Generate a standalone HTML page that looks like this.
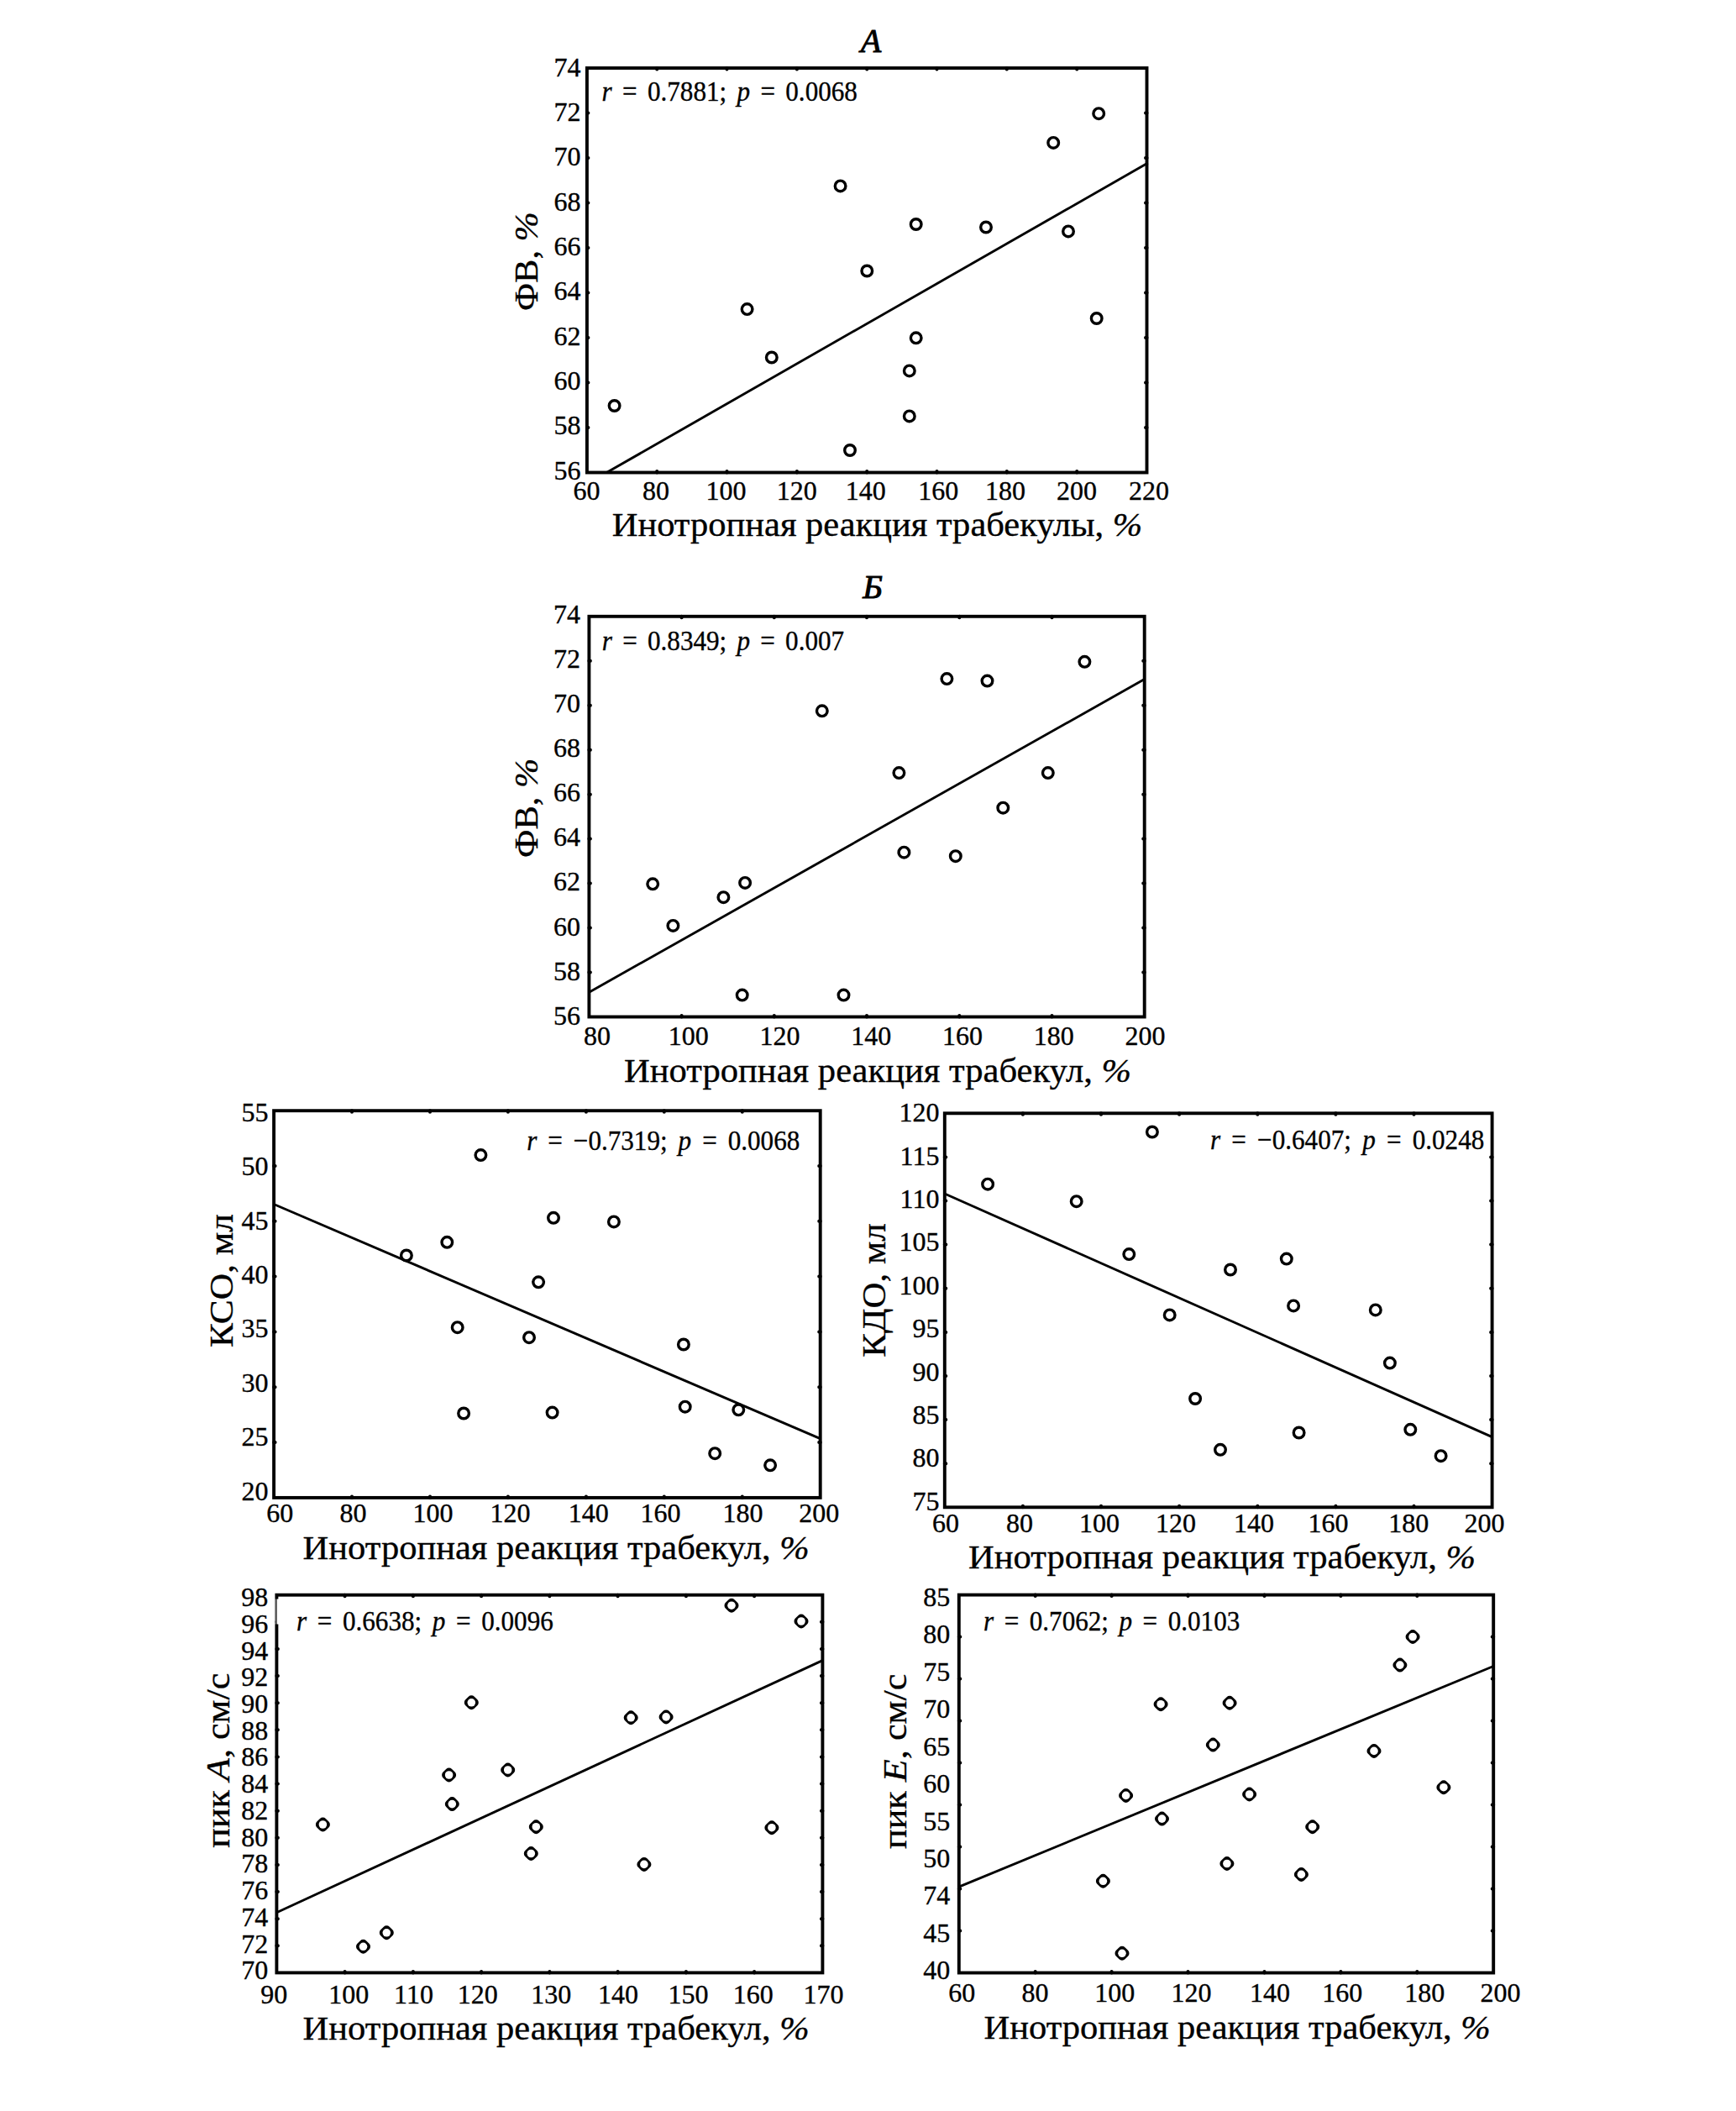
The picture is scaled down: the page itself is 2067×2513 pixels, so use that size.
<!DOCTYPE html>
<html lang="ru"><head><meta charset="utf-8"><title>Figure</title>
<style>
html,body{margin:0;padding:0;background:#fff}
svg{display:block}
text{font-family:"Liberation Serif","DejaVu Serif",serif;fill:#000;stroke:#000;stroke-width:0.35px}
</style></head><body>
<svg width="2067" height="2513" viewBox="0 0 2067 2513">
<rect width="2067" height="2513" fill="#fff"/>
<g>
<rect x="698.9" y="81.0" width="666.6" height="481.5" fill="none" stroke="#000" stroke-width="3.9"/>
<text x="698.4" y="594.6" font-size="32" text-anchor="middle">60</text>
<text x="781.1" y="594.6" font-size="32" text-anchor="middle">80</text>
<text x="864.6" y="594.6" font-size="32" text-anchor="middle">100</text>
<text x="948.8" y="594.6" font-size="32" text-anchor="middle">120</text>
<text x="1030.8" y="594.6" font-size="32" text-anchor="middle">140</text>
<text x="1117.2" y="594.6" font-size="32" text-anchor="middle">160</text>
<text x="1197.1" y="594.6" font-size="32" text-anchor="middle">180</text>
<text x="1281.9" y="594.6" font-size="32" text-anchor="middle">200</text>
<text x="1368.0" y="594.6" font-size="32" text-anchor="middle">220</text>
<text x="691.4" y="570.6" font-size="32" text-anchor="end">56</text>
<text x="691.4" y="517.3" font-size="32" text-anchor="end">58</text>
<text x="691.4" y="464.0" font-size="32" text-anchor="end">60</text>
<text x="691.4" y="410.7" font-size="32" text-anchor="end">62</text>
<text x="691.4" y="357.4" font-size="32" text-anchor="end">64</text>
<text x="691.4" y="304.0" font-size="32" text-anchor="end">66</text>
<text x="691.4" y="250.7" font-size="32" text-anchor="end">68</text>
<text x="691.4" y="197.4" font-size="32" text-anchor="end">70</text>
<text x="691.4" y="144.1" font-size="32" text-anchor="end">72</text>
<text x="691.4" y="90.8" font-size="32" text-anchor="end">74</text>
<path d="M782.2 562.5v-1.5M782.2 81.0v1.5M865.5 562.5v-1.5M865.5 81.0v1.5M948.9 562.5v-1.5M948.9 81.0v1.5M1032.2 562.5v-1.5M1032.2 81.0v1.5M1115.5 562.5v-1.5M1115.5 81.0v1.5M1198.8 562.5v-1.5M1198.8 81.0v1.5M1282.2 562.5v-1.5M1282.2 81.0v1.5M698.9 509.0h1.5M1365.5 509.0h-1.5M698.9 455.5h1.5M1365.5 455.5h-1.5M698.9 402.0h1.5M1365.5 402.0h-1.5M698.9 348.5h1.5M1365.5 348.5h-1.5M698.9 295.0h1.5M1365.5 295.0h-1.5M698.9 241.5h1.5M1365.5 241.5h-1.5M698.9 188.0h1.5M1365.5 188.0h-1.5M698.9 134.5h1.5M1365.5 134.5h-1.5" stroke="#000" stroke-width="4" stroke-linecap="round" fill="none"/>
<line x1="722.8" y1="562.3" x2="1366.7" y2="194.0" stroke="#000" stroke-width="2.9"/>
<circle cx="731.6" cy="483.0" r="6.3" fill="#fff" stroke="#000" stroke-width="3.4"/>
<circle cx="889.6" cy="368.1" r="6.3" fill="#fff" stroke="#000" stroke-width="3.4"/>
<circle cx="918.8" cy="425.5" r="6.3" fill="#fff" stroke="#000" stroke-width="3.4"/>
<circle cx="1000.6" cy="221.4" r="6.3" fill="#fff" stroke="#000" stroke-width="3.4"/>
<circle cx="1012.0" cy="536.0" r="6.3" fill="#fff" stroke="#000" stroke-width="3.4"/>
<circle cx="1032.3" cy="322.5" r="6.3" fill="#fff" stroke="#000" stroke-width="3.4"/>
<circle cx="1082.8" cy="441.4" r="6.3" fill="#fff" stroke="#000" stroke-width="3.4"/>
<circle cx="1082.8" cy="495.4" r="6.3" fill="#fff" stroke="#000" stroke-width="3.4"/>
<circle cx="1090.7" cy="267.0" r="6.3" fill="#fff" stroke="#000" stroke-width="3.4"/>
<circle cx="1090.7" cy="402.3" r="6.3" fill="#fff" stroke="#000" stroke-width="3.4"/>
<circle cx="1174.0" cy="270.5" r="6.3" fill="#fff" stroke="#000" stroke-width="3.4"/>
<circle cx="1254.2" cy="169.9" r="6.3" fill="#fff" stroke="#000" stroke-width="3.4"/>
<circle cx="1272.0" cy="275.4" r="6.3" fill="#fff" stroke="#000" stroke-width="3.4"/>
<circle cx="1305.7" cy="379.0" r="6.3" fill="#fff" stroke="#000" stroke-width="3.4"/>
<circle cx="1308.2" cy="135.2" r="6.3" fill="#fff" stroke="#000" stroke-width="3.4"/>
<text transform="translate(716.6 120.1) scale(0.93 1)" font-size="33.5" style="word-spacing:4.88px"><tspan font-style="italic">r</tspan> = 0.7881; <tspan font-style="italic">p</tspan> = 0.0068</text>
<text x="728.7" y="637.8" font-size="41" textLength="631.5" lengthAdjust="spacingAndGlyphs">Инотропная реакция трабекулы, <tspan font-style="italic">%</tspan></text>
<text x="640.3" y="370" font-size="41" textLength="117.6" lengthAdjust="spacingAndGlyphs" transform="rotate(-90 640.3 370)">ФВ, <tspan font-style="italic">%</tspan></text>
<text x="1037" y="62.3" font-size="40" text-anchor="middle" font-style="italic" style="stroke-width:1px">А</text>
</g>
<g>
<rect x="701.4" y="733.8" width="661.3" height="476.7" fill="none" stroke="#000" stroke-width="3.9"/>
<text x="711.0" y="1244.4" font-size="32" text-anchor="middle">80</text>
<text x="819.8" y="1244.4" font-size="32" text-anchor="middle">100</text>
<text x="928.5" y="1244.4" font-size="32" text-anchor="middle">120</text>
<text x="1037.3" y="1244.4" font-size="32" text-anchor="middle">140</text>
<text x="1146.1" y="1244.4" font-size="32" text-anchor="middle">160</text>
<text x="1254.8" y="1244.4" font-size="32" text-anchor="middle">180</text>
<text x="1363.6" y="1244.4" font-size="32" text-anchor="middle">200</text>
<text x="691.0" y="1219.9" font-size="32" text-anchor="end">56</text>
<text x="691.0" y="1166.7" font-size="32" text-anchor="end">58</text>
<text x="691.0" y="1113.6" font-size="32" text-anchor="end">60</text>
<text x="691.0" y="1060.4" font-size="32" text-anchor="end">62</text>
<text x="691.0" y="1007.3" font-size="32" text-anchor="end">64</text>
<text x="691.0" y="954.1" font-size="32" text-anchor="end">66</text>
<text x="691.0" y="901.0" font-size="32" text-anchor="end">68</text>
<text x="691.0" y="847.8" font-size="32" text-anchor="end">70</text>
<text x="691.0" y="794.7" font-size="32" text-anchor="end">72</text>
<text x="691.0" y="741.5" font-size="32" text-anchor="end">74</text>
<path d="M811.6 1210.5v-1.5M811.6 733.8v1.5M921.8 1210.5v-1.5M921.8 733.8v1.5M1032.0 1210.5v-1.5M1032.0 733.8v1.5M1142.3 1210.5v-1.5M1142.3 733.8v1.5M1252.5 1210.5v-1.5M1252.5 733.8v1.5M701.4 1157.5h1.5M1362.7 1157.5h-1.5M701.4 1104.6h1.5M1362.7 1104.6h-1.5M701.4 1051.6h1.5M1362.7 1051.6h-1.5M701.4 998.6h1.5M1362.7 998.6h-1.5M701.4 945.7h1.5M1362.7 945.7h-1.5M701.4 892.7h1.5M1362.7 892.7h-1.5M701.4 839.7h1.5M1362.7 839.7h-1.5M701.4 786.8h1.5M1362.7 786.8h-1.5" stroke="#000" stroke-width="4" stroke-linecap="round" fill="none"/>
<line x1="701.4" y1="1181.2" x2="1362.7" y2="808.6" stroke="#000" stroke-width="2.9"/>
<circle cx="777.2" cy="1052.3" r="6.3" fill="#fff" stroke="#000" stroke-width="3.4"/>
<circle cx="801.4" cy="1101.9" r="6.3" fill="#fff" stroke="#000" stroke-width="3.4"/>
<circle cx="861.4" cy="1068.2" r="6.3" fill="#fff" stroke="#000" stroke-width="3.4"/>
<circle cx="887.1" cy="1050.9" r="6.3" fill="#fff" stroke="#000" stroke-width="3.4"/>
<circle cx="883.7" cy="1184.6" r="6.3" fill="#fff" stroke="#000" stroke-width="3.4"/>
<circle cx="978.8" cy="846.3" r="6.3" fill="#fff" stroke="#000" stroke-width="3.4"/>
<circle cx="1004.5" cy="1184.6" r="6.3" fill="#fff" stroke="#000" stroke-width="3.4"/>
<circle cx="1070.4" cy="920.1" r="6.3" fill="#fff" stroke="#000" stroke-width="3.4"/>
<circle cx="1076.4" cy="1014.7" r="6.3" fill="#fff" stroke="#000" stroke-width="3.4"/>
<circle cx="1127.4" cy="808.1" r="6.3" fill="#fff" stroke="#000" stroke-width="3.4"/>
<circle cx="1137.8" cy="1019.2" r="6.3" fill="#fff" stroke="#000" stroke-width="3.4"/>
<circle cx="1175.5" cy="810.6" r="6.3" fill="#fff" stroke="#000" stroke-width="3.4"/>
<circle cx="1194.3" cy="961.7" r="6.3" fill="#fff" stroke="#000" stroke-width="3.4"/>
<circle cx="1247.8" cy="920.1" r="6.3" fill="#fff" stroke="#000" stroke-width="3.4"/>
<circle cx="1291.4" cy="787.8" r="6.3" fill="#fff" stroke="#000" stroke-width="3.4"/>
<text transform="translate(716.8 774.2) scale(0.93 1)" font-size="33.5" style="word-spacing:4.79px"><tspan font-style="italic">r</tspan> = 0.8349; <tspan font-style="italic">p</tspan> = 0.007</text>
<text x="743" y="1287.7" font-size="41" textLength="604" lengthAdjust="spacingAndGlyphs">Инотропная реакция трабекул, <tspan font-style="italic">%</tspan></text>
<text x="640.3" y="1021" font-size="41" textLength="118.3" lengthAdjust="spacingAndGlyphs" transform="rotate(-90 640.3 1021)">ФВ, <tspan font-style="italic">%</tspan></text>
<text x="1039" y="712" font-size="40" text-anchor="middle" font-style="italic" style="stroke-width:1px">Б</text>
</g>
<g>
<rect x="326.1" y="1322.2" width="650.6" height="460.7" fill="none" stroke="#000" stroke-width="3.9"/>
<text x="333.3" y="1812.3" font-size="32" text-anchor="middle">60</text>
<text x="420.4" y="1812.3" font-size="32" text-anchor="middle">80</text>
<text x="515.5" y="1812.3" font-size="32" text-anchor="middle">100</text>
<text x="607.6" y="1812.3" font-size="32" text-anchor="middle">120</text>
<text x="700.7" y="1812.3" font-size="32" text-anchor="middle">140</text>
<text x="786.6" y="1812.3" font-size="32" text-anchor="middle">160</text>
<text x="884.6" y="1812.3" font-size="32" text-anchor="middle">180</text>
<text x="975.2" y="1812.3" font-size="32" text-anchor="middle">200</text>
<text x="319.4" y="1785.6" font-size="32" text-anchor="end">20</text>
<text x="319.4" y="1721.2" font-size="32" text-anchor="end">25</text>
<text x="319.4" y="1656.7" font-size="32" text-anchor="end">30</text>
<text x="319.4" y="1592.3" font-size="32" text-anchor="end">35</text>
<text x="319.4" y="1527.9" font-size="32" text-anchor="end">40</text>
<text x="319.4" y="1463.5" font-size="32" text-anchor="end">45</text>
<text x="319.4" y="1399.0" font-size="32" text-anchor="end">50</text>
<text x="319.4" y="1334.6" font-size="32" text-anchor="end">55</text>
<path d="M419.0 1782.9v-1.5M419.0 1322.2v1.5M512.0 1782.9v-1.5M512.0 1322.2v1.5M604.9 1782.9v-1.5M604.9 1322.2v1.5M697.9 1782.9v-1.5M697.9 1322.2v1.5M790.8 1782.9v-1.5M790.8 1322.2v1.5M883.8 1782.9v-1.5M883.8 1322.2v1.5M326.1 1717.1h1.5M976.7 1717.1h-1.5M326.1 1651.3h1.5M976.7 1651.3h-1.5M326.1 1585.5h1.5M976.7 1585.5h-1.5M326.1 1519.6h1.5M976.7 1519.6h-1.5M326.1 1453.8h1.5M976.7 1453.8h-1.5M326.1 1388.0h1.5M976.7 1388.0h-1.5" stroke="#000" stroke-width="4" stroke-linecap="round" fill="none"/>
<line x1="326" y1="1433.5" x2="976.7" y2="1712.7" stroke="#000" stroke-width="2.9"/>
<circle cx="483.9" cy="1494.5" r="6.3" fill="#fff" stroke="#000" stroke-width="3.4"/>
<circle cx="532.3" cy="1478.8" r="6.3" fill="#fff" stroke="#000" stroke-width="3.4"/>
<circle cx="572.4" cy="1375.1" r="6.3" fill="#fff" stroke="#000" stroke-width="3.4"/>
<circle cx="544.7" cy="1580.2" r="6.3" fill="#fff" stroke="#000" stroke-width="3.4"/>
<circle cx="552.1" cy="1682.5" r="6.3" fill="#fff" stroke="#000" stroke-width="3.4"/>
<circle cx="630.0" cy="1592.2" r="6.3" fill="#fff" stroke="#000" stroke-width="3.4"/>
<circle cx="641.1" cy="1526.3" r="6.3" fill="#fff" stroke="#000" stroke-width="3.4"/>
<circle cx="659.0" cy="1449.8" r="6.3" fill="#fff" stroke="#000" stroke-width="3.4"/>
<circle cx="657.6" cy="1681.6" r="6.3" fill="#fff" stroke="#000" stroke-width="3.4"/>
<circle cx="730.9" cy="1454.4" r="6.3" fill="#fff" stroke="#000" stroke-width="3.4"/>
<circle cx="813.9" cy="1600.5" r="6.3" fill="#fff" stroke="#000" stroke-width="3.4"/>
<circle cx="815.7" cy="1674.7" r="6.3" fill="#fff" stroke="#000" stroke-width="3.4"/>
<circle cx="851.2" cy="1730.2" r="6.3" fill="#fff" stroke="#000" stroke-width="3.4"/>
<circle cx="879.3" cy="1678.3" r="6.3" fill="#fff" stroke="#000" stroke-width="3.4"/>
<circle cx="917.1" cy="1744.3" r="6.3" fill="#fff" stroke="#000" stroke-width="3.4"/>
<text transform="translate(627.2 1369.1) scale(0.93 1)" font-size="33.5" style="word-spacing:5.57px"><tspan font-style="italic">r</tspan> = −0.7319; <tspan font-style="italic">p</tspan> = 0.0068</text>
<text x="360.6" y="1855.5" font-size="41" textLength="603" lengthAdjust="spacingAndGlyphs">Инотропная реакция трабекул, <tspan font-style="italic">%</tspan></text>
<text x="276.5" y="1604" font-size="41" textLength="159" lengthAdjust="spacingAndGlyphs" transform="rotate(-90 276.5 1604)">КСО, мл</text>
</g>
<g>
<rect x="1124.8" y="1325.3" width="651.8" height="469.0" fill="none" stroke="#000" stroke-width="3.9"/>
<text x="1125.9" y="1823.6" font-size="32" text-anchor="middle">60</text>
<text x="1214.1" y="1823.6" font-size="32" text-anchor="middle">80</text>
<text x="1308.9" y="1823.6" font-size="32" text-anchor="middle">100</text>
<text x="1400.0" y="1823.6" font-size="32" text-anchor="middle">120</text>
<text x="1493.1" y="1823.6" font-size="32" text-anchor="middle">140</text>
<text x="1581.5" y="1823.6" font-size="32" text-anchor="middle">160</text>
<text x="1677.2" y="1823.6" font-size="32" text-anchor="middle">180</text>
<text x="1767.5" y="1823.6" font-size="32" text-anchor="middle">200</text>
<text x="1118.4" y="1797.6" font-size="32" text-anchor="end">75</text>
<text x="1118.4" y="1746.2" font-size="32" text-anchor="end">80</text>
<text x="1118.4" y="1694.9" font-size="32" text-anchor="end">85</text>
<text x="1118.4" y="1643.5" font-size="32" text-anchor="end">90</text>
<text x="1118.4" y="1592.1" font-size="32" text-anchor="end">95</text>
<text x="1118.4" y="1540.8" font-size="32" text-anchor="end">100</text>
<text x="1118.4" y="1489.4" font-size="32" text-anchor="end">105</text>
<text x="1118.4" y="1438.0" font-size="32" text-anchor="end">110</text>
<text x="1118.4" y="1386.7" font-size="32" text-anchor="end">115</text>
<text x="1118.4" y="1335.3" font-size="32" text-anchor="end">120</text>
<path d="M1217.9 1794.3v-1.5M1217.9 1325.3v1.5M1311.0 1794.3v-1.5M1311.0 1325.3v1.5M1404.1 1794.3v-1.5M1404.1 1325.3v1.5M1497.3 1794.3v-1.5M1497.3 1325.3v1.5M1590.4 1794.3v-1.5M1590.4 1325.3v1.5M1683.5 1794.3v-1.5M1683.5 1325.3v1.5M1124.8 1742.2h1.5M1776.6 1742.2h-1.5M1124.8 1690.1h1.5M1776.6 1690.1h-1.5M1124.8 1638.0h1.5M1776.6 1638.0h-1.5M1124.8 1585.9h1.5M1776.6 1585.9h-1.5M1124.8 1533.7h1.5M1776.6 1533.7h-1.5M1124.8 1481.6h1.5M1776.6 1481.6h-1.5M1124.8 1429.5h1.5M1776.6 1429.5h-1.5M1124.8 1377.4h1.5M1776.6 1377.4h-1.5" stroke="#000" stroke-width="4" stroke-linecap="round" fill="none"/>
<line x1="1124.8" y1="1421" x2="1776.6" y2="1710.6" stroke="#000" stroke-width="2.9"/>
<circle cx="1176.1" cy="1409.7" r="6.3" fill="#fff" stroke="#000" stroke-width="3.4"/>
<circle cx="1281.7" cy="1430.2" r="6.3" fill="#fff" stroke="#000" stroke-width="3.4"/>
<circle cx="1344.3" cy="1493.1" r="6.3" fill="#fff" stroke="#000" stroke-width="3.4"/>
<circle cx="1371.9" cy="1347.5" r="6.3" fill="#fff" stroke="#000" stroke-width="3.4"/>
<circle cx="1392.7" cy="1565.4" r="6.3" fill="#fff" stroke="#000" stroke-width="3.4"/>
<circle cx="1423.1" cy="1665.0" r="6.3" fill="#fff" stroke="#000" stroke-width="3.4"/>
<circle cx="1453.0" cy="1725.8" r="6.3" fill="#fff" stroke="#000" stroke-width="3.4"/>
<circle cx="1465.0" cy="1511.5" r="6.3" fill="#fff" stroke="#000" stroke-width="3.4"/>
<circle cx="1531.8" cy="1498.6" r="6.3" fill="#fff" stroke="#000" stroke-width="3.4"/>
<circle cx="1540.1" cy="1554.4" r="6.3" fill="#fff" stroke="#000" stroke-width="3.4"/>
<circle cx="1546.6" cy="1705.5" r="6.3" fill="#fff" stroke="#000" stroke-width="3.4"/>
<circle cx="1637.8" cy="1559.4" r="6.3" fill="#fff" stroke="#000" stroke-width="3.4"/>
<circle cx="1654.9" cy="1622.6" r="6.3" fill="#fff" stroke="#000" stroke-width="3.4"/>
<circle cx="1679.3" cy="1701.8" r="6.3" fill="#fff" stroke="#000" stroke-width="3.4"/>
<circle cx="1715.6" cy="1733.2" r="6.3" fill="#fff" stroke="#000" stroke-width="3.4"/>
<text transform="translate(1441 1367.5) scale(0.93 1)" font-size="33.5" style="word-spacing:5.83px"><tspan font-style="italic">r</tspan> = −0.6407; <tspan font-style="italic">p</tspan> = 0.0248</text>
<text x="1153" y="1867.3" font-size="41" textLength="604" lengthAdjust="spacingAndGlyphs">Инотропная реакция трабекул, <tspan font-style="italic">%</tspan></text>
<text x="1054.5" y="1615.7" font-size="41" textLength="159.5" lengthAdjust="spacingAndGlyphs" transform="rotate(-90 1054.5 1615.7)">КДО, мл</text>
</g>
<g>
<rect x="329.4" y="1898.7" width="650.0" height="449.7" fill="none" stroke="#000" stroke-width="3.9"/>
<text x="326.2" y="2384.6" font-size="32" text-anchor="middle">90</text>
<text x="415.3" y="2384.6" font-size="32" text-anchor="middle">100</text>
<text x="492.5" y="2384.6" font-size="32" text-anchor="middle">110</text>
<text x="568.8" y="2384.6" font-size="32" text-anchor="middle">120</text>
<text x="656.2" y="2384.6" font-size="32" text-anchor="middle">130</text>
<text x="736.1" y="2384.6" font-size="32" text-anchor="middle">140</text>
<text x="819.6" y="2384.6" font-size="32" text-anchor="middle">150</text>
<text x="896.8" y="2384.6" font-size="32" text-anchor="middle">160</text>
<text x="980.5" y="2384.6" font-size="32" text-anchor="middle">170</text>
<text x="319.3" y="2356.3" font-size="32" text-anchor="end">70</text>
<text x="319.3" y="2324.6" font-size="32" text-anchor="end">72</text>
<text x="319.3" y="2292.8" font-size="32" text-anchor="end">74</text>
<text x="319.3" y="2261.1" font-size="32" text-anchor="end">76</text>
<text x="319.3" y="2229.4" font-size="32" text-anchor="end">78</text>
<text x="319.3" y="2197.6" font-size="32" text-anchor="end">80</text>
<text x="319.3" y="2165.9" font-size="32" text-anchor="end">82</text>
<text x="319.3" y="2134.2" font-size="32" text-anchor="end">84</text>
<text x="319.3" y="2102.4" font-size="32" text-anchor="end">86</text>
<text x="319.3" y="2070.7" font-size="32" text-anchor="end">88</text>
<text x="319.3" y="2038.9" font-size="32" text-anchor="end">90</text>
<text x="319.3" y="2007.2" font-size="32" text-anchor="end">92</text>
<text x="319.3" y="1975.5" font-size="32" text-anchor="end">94</text>
<text x="319.3" y="1943.7" font-size="32" text-anchor="end">96</text>
<text x="319.3" y="1912.0" font-size="32" text-anchor="end">98</text>
<path d="M410.6 2348.4v-1.5M410.6 1898.7v1.5M491.9 2348.4v-1.5M491.9 1898.7v1.5M573.1 2348.4v-1.5M573.1 1898.7v1.5M654.4 2348.4v-1.5M654.4 1898.7v1.5M735.6 2348.4v-1.5M735.6 1898.7v1.5M816.9 2348.4v-1.5M816.9 1898.7v1.5M898.1 2348.4v-1.5M898.1 1898.7v1.5M329.4 2316.3h1.5M979.4 2316.3h-1.5M329.4 2284.2h1.5M979.4 2284.2h-1.5M329.4 2252.0h1.5M979.4 2252.0h-1.5M329.4 2219.9h1.5M979.4 2219.9h-1.5M329.4 2187.8h1.5M979.4 2187.8h-1.5M329.4 2155.7h1.5M979.4 2155.7h-1.5M329.4 2123.6h1.5M979.4 2123.6h-1.5M329.4 2091.4h1.5M979.4 2091.4h-1.5M329.4 2059.3h1.5M979.4 2059.3h-1.5M329.4 2027.2h1.5M979.4 2027.2h-1.5M329.4 1995.1h1.5M979.4 1995.1h-1.5M329.4 1962.9h1.5M979.4 1962.9h-1.5M329.4 1930.8h1.5M979.4 1930.8h-1.5" stroke="#000" stroke-width="4" stroke-linecap="round" fill="none"/>
<line x1="329.4" y1="2276.8" x2="979.4" y2="1976.6" stroke="#000" stroke-width="2.9"/>
<path d="M384.4 2168.4L388.0 2172.0L384.4 2175.6L380.8 2172.0Z" fill="#000" stroke="#000" stroke-width="9.8" stroke-linejoin="round"/><circle cx="384.4" cy="2172.0" r="4.8" fill="#fff"/>
<path d="M432.5 2313.7L436.1 2317.3L432.5 2320.9L428.9 2317.3Z" fill="#000" stroke="#000" stroke-width="9.8" stroke-linejoin="round"/><circle cx="432.5" cy="2317.3" r="4.8" fill="#fff"/>
<path d="M460.3 2297.2L463.9 2300.8L460.3 2304.4L456.7 2300.8Z" fill="#000" stroke="#000" stroke-width="9.8" stroke-linejoin="round"/><circle cx="460.3" cy="2300.8" r="4.8" fill="#fff"/>
<path d="M534.6 2109.4L538.2 2113.0L534.6 2116.6L531.0 2113.0Z" fill="#000" stroke="#000" stroke-width="9.8" stroke-linejoin="round"/><circle cx="534.6" cy="2113.0" r="4.8" fill="#fff"/>
<path d="M538.3 2144.0L541.9 2147.6L538.3 2151.2L534.7 2147.6Z" fill="#000" stroke="#000" stroke-width="9.8" stroke-linejoin="round"/><circle cx="538.3" cy="2147.6" r="4.8" fill="#fff"/>
<path d="M561.3 2023.2L564.9 2026.8L561.3 2030.4L557.7 2026.8Z" fill="#000" stroke="#000" stroke-width="9.8" stroke-linejoin="round"/><circle cx="561.3" cy="2026.8" r="4.8" fill="#fff"/>
<path d="M604.7 2103.4L608.3 2107.0L604.7 2110.6L601.1 2107.0Z" fill="#000" stroke="#000" stroke-width="9.8" stroke-linejoin="round"/><circle cx="604.7" cy="2107.0" r="4.8" fill="#fff"/>
<path d="M632.3 2202.9L635.9 2206.5L632.3 2210.1L628.7 2206.5Z" fill="#000" stroke="#000" stroke-width="9.8" stroke-linejoin="round"/><circle cx="632.3" cy="2206.5" r="4.8" fill="#fff"/>
<path d="M638.3 2171.1L641.9 2174.7L638.3 2178.3L634.7 2174.7Z" fill="#000" stroke="#000" stroke-width="9.8" stroke-linejoin="round"/><circle cx="638.3" cy="2174.7" r="4.8" fill="#fff"/>
<path d="M751.2 2041.2L754.8 2044.8L751.2 2048.4L747.6 2044.8Z" fill="#000" stroke="#000" stroke-width="9.8" stroke-linejoin="round"/><circle cx="751.2" cy="2044.8" r="4.8" fill="#fff"/>
<path d="M766.9 2215.8L770.5 2219.4L766.9 2223.0L763.3 2219.4Z" fill="#000" stroke="#000" stroke-width="9.8" stroke-linejoin="round"/><circle cx="766.9" cy="2219.4" r="4.8" fill="#fff"/>
<path d="M793.1 2040.3L796.7 2043.9L793.1 2047.5L789.5 2043.9Z" fill="#000" stroke="#000" stroke-width="9.8" stroke-linejoin="round"/><circle cx="793.1" cy="2043.9" r="4.8" fill="#fff"/>
<path d="M871.0 1907.6L874.6 1911.2L871.0 1914.8L867.4 1911.2Z" fill="#000" stroke="#000" stroke-width="9.8" stroke-linejoin="round"/><circle cx="871.0" cy="1911.2" r="4.8" fill="#fff"/>
<path d="M918.9 2172.1L922.5 2175.7L918.9 2179.3L915.3 2175.7Z" fill="#000" stroke="#000" stroke-width="9.8" stroke-linejoin="round"/><circle cx="918.9" cy="2175.7" r="4.8" fill="#fff"/>
<path d="M954.0 1926.4L957.6 1930.0L954.0 1933.6L950.4 1930.0Z" fill="#000" stroke="#000" stroke-width="9.8" stroke-linejoin="round"/><circle cx="954.0" cy="1930.0" r="4.8" fill="#fff"/>
<text transform="translate(353 1940.5) scale(0.93 1)" font-size="33.5" style="word-spacing:5.20px"><tspan font-style="italic">r</tspan> = 0.6638; <tspan font-style="italic">p</tspan> = 0.0096</text>
<text x="360.6" y="2428" font-size="41" textLength="603" lengthAdjust="spacingAndGlyphs">Инотропная реакция трабекул, <tspan font-style="italic">%</tspan></text>
<text x="273" y="2199.7" font-size="41" textLength="208" lengthAdjust="spacingAndGlyphs" transform="rotate(-90 273 2199.7)">пик <tspan font-style="italic">A</tspan>, см/с</text>
<rect x="329.9" y="1903.5" width="4.2" height="30.0" fill="#fff"/>
<rect x="327.29999999999995" y="1903.5" width="2.7" height="30.0" fill="#fff" opacity="0.35"/>
</g>
<g>
<rect x="1141.8" y="1898.6" width="636.4" height="449.9" fill="none" stroke="#000" stroke-width="3.9"/>
<text x="1145.2" y="2383.4" font-size="32" text-anchor="middle">60</text>
<text x="1232.6" y="2383.4" font-size="32" text-anchor="middle">80</text>
<text x="1327.2" y="2383.4" font-size="32" text-anchor="middle">100</text>
<text x="1418.6" y="2383.4" font-size="32" text-anchor="middle">120</text>
<text x="1512.0" y="2383.4" font-size="32" text-anchor="middle">140</text>
<text x="1598.3" y="2383.4" font-size="32" text-anchor="middle">160</text>
<text x="1696.3" y="2383.4" font-size="32" text-anchor="middle">180</text>
<text x="1786.5" y="2383.4" font-size="32" text-anchor="middle">200</text>
<text x="1131.2" y="2356.3" font-size="32" text-anchor="end">40</text>
<text x="1131.2" y="2311.9" font-size="32" text-anchor="end">45</text>
<text x="1131.2" y="2267.4" font-size="32" text-anchor="end">74</text>
<text x="1131.2" y="2223.0" font-size="32" text-anchor="end">50</text>
<text x="1131.2" y="2178.6" font-size="32" text-anchor="end">55</text>
<text x="1131.2" y="2134.2" font-size="32" text-anchor="end">60</text>
<text x="1131.2" y="2089.7" font-size="32" text-anchor="end">65</text>
<text x="1131.2" y="2045.3" font-size="32" text-anchor="end">70</text>
<text x="1131.2" y="2000.9" font-size="32" text-anchor="end">75</text>
<text x="1131.2" y="1956.4" font-size="32" text-anchor="end">80</text>
<text x="1131.2" y="1912.0" font-size="32" text-anchor="end">85</text>
<path d="M1232.7 2348.5v-1.5M1232.7 1898.6v1.5M1323.6 2348.5v-1.5M1323.6 1898.6v1.5M1414.5 2348.5v-1.5M1414.5 1898.6v1.5M1505.5 2348.5v-1.5M1505.5 1898.6v1.5M1596.4 2348.5v-1.5M1596.4 1898.6v1.5M1687.3 2348.5v-1.5M1687.3 1898.6v1.5M1141.8 2298.5h1.5M1778.2 2298.5h-1.5M1141.8 2248.5h1.5M1778.2 2248.5h-1.5M1141.8 2198.5h1.5M1778.2 2198.5h-1.5M1141.8 2148.5h1.5M1778.2 2148.5h-1.5M1141.8 2098.6h1.5M1778.2 2098.6h-1.5M1141.8 2048.6h1.5M1778.2 2048.6h-1.5M1141.8 1998.6h1.5M1778.2 1998.6h-1.5M1141.8 1948.6h1.5M1778.2 1948.6h-1.5" stroke="#000" stroke-width="4" stroke-linecap="round" fill="none"/>
<line x1="1141.8" y1="2246.2" x2="1778.2" y2="1983.5" stroke="#000" stroke-width="2.9"/>
<path d="M1313.4 2235.7L1317.0 2239.3L1313.4 2242.9L1309.8 2239.3Z" fill="#000" stroke="#000" stroke-width="9.8" stroke-linejoin="round"/><circle cx="1313.4" cy="2239.3" r="4.8" fill="#fff"/>
<path d="M1336.0 2321.7L1339.6 2325.3L1336.0 2328.9L1332.4 2325.3Z" fill="#000" stroke="#000" stroke-width="9.8" stroke-linejoin="round"/><circle cx="1336.0" cy="2325.3" r="4.8" fill="#fff"/>
<path d="M1340.6 2133.8L1344.2 2137.4L1340.6 2141.0L1337.0 2137.4Z" fill="#000" stroke="#000" stroke-width="9.8" stroke-linejoin="round"/><circle cx="1340.6" cy="2137.4" r="4.8" fill="#fff"/>
<path d="M1382.1 2025.1L1385.7 2028.7L1382.1 2032.3L1378.5 2028.7Z" fill="#000" stroke="#000" stroke-width="9.8" stroke-linejoin="round"/><circle cx="1382.1" cy="2028.7" r="4.8" fill="#fff"/>
<path d="M1383.5 2161.5L1387.1 2165.1L1383.5 2168.7L1379.9 2165.1Z" fill="#000" stroke="#000" stroke-width="9.8" stroke-linejoin="round"/><circle cx="1383.5" cy="2165.1" r="4.8" fill="#fff"/>
<path d="M1444.3 2073.5L1447.9 2077.1L1444.3 2080.7L1440.7 2077.1Z" fill="#000" stroke="#000" stroke-width="9.8" stroke-linejoin="round"/><circle cx="1444.3" cy="2077.1" r="4.8" fill="#fff"/>
<path d="M1460.9 2214.9L1464.5 2218.5L1460.9 2222.1L1457.3 2218.5Z" fill="#000" stroke="#000" stroke-width="9.8" stroke-linejoin="round"/><circle cx="1460.9" cy="2218.5" r="4.8" fill="#fff"/>
<path d="M1464.1 2023.7L1467.7 2027.3L1464.1 2030.9L1460.5 2027.3Z" fill="#000" stroke="#000" stroke-width="9.8" stroke-linejoin="round"/><circle cx="1464.1" cy="2027.3" r="4.8" fill="#fff"/>
<path d="M1487.6 2132.4L1491.2 2136.0L1487.6 2139.6L1484.0 2136.0Z" fill="#000" stroke="#000" stroke-width="9.8" stroke-linejoin="round"/><circle cx="1487.6" cy="2136.0" r="4.8" fill="#fff"/>
<path d="M1549.4 2227.8L1553.0 2231.4L1549.4 2235.0L1545.8 2231.4Z" fill="#000" stroke="#000" stroke-width="9.8" stroke-linejoin="round"/><circle cx="1549.4" cy="2231.4" r="4.8" fill="#fff"/>
<path d="M1562.7 2171.1L1566.3 2174.7L1562.7 2178.3L1559.1 2174.7Z" fill="#000" stroke="#000" stroke-width="9.8" stroke-linejoin="round"/><circle cx="1562.7" cy="2174.7" r="4.8" fill="#fff"/>
<path d="M1636.0 2080.8L1639.6 2084.4L1636.0 2088.0L1632.4 2084.4Z" fill="#000" stroke="#000" stroke-width="9.8" stroke-linejoin="round"/><circle cx="1636.0" cy="2084.4" r="4.8" fill="#fff"/>
<path d="M1666.9 1978.5L1670.5 1982.1L1666.9 1985.7L1663.3 1982.1Z" fill="#000" stroke="#000" stroke-width="9.8" stroke-linejoin="round"/><circle cx="1666.9" cy="1982.1" r="4.8" fill="#fff"/>
<path d="M1682.1 1944.9L1685.7 1948.5L1682.1 1952.1L1678.5 1948.5Z" fill="#000" stroke="#000" stroke-width="9.8" stroke-linejoin="round"/><circle cx="1682.1" cy="1948.5" r="4.8" fill="#fff"/>
<path d="M1718.9 2124.1L1722.5 2127.7L1718.9 2131.3L1715.3 2127.7Z" fill="#000" stroke="#000" stroke-width="9.8" stroke-linejoin="round"/><circle cx="1718.9" cy="2127.7" r="4.8" fill="#fff"/>
<text transform="translate(1171 1940.5) scale(0.93 1)" font-size="33.5" style="word-spacing:5.09px"><tspan font-style="italic">r</tspan> = 0.7062; <tspan font-style="italic">p</tspan> = 0.0103</text>
<text x="1171.4" y="2427.1" font-size="41" textLength="603.4" lengthAdjust="spacingAndGlyphs">Инотропная реакция трабекул, <tspan font-style="italic">%</tspan></text>
<text x="1079" y="2201" font-size="41" textLength="208.4" lengthAdjust="spacingAndGlyphs" transform="rotate(-90 1079 2201)">пик <tspan font-style="italic">E</tspan>, см/с</text>
</g>
</svg>
</body></html>
